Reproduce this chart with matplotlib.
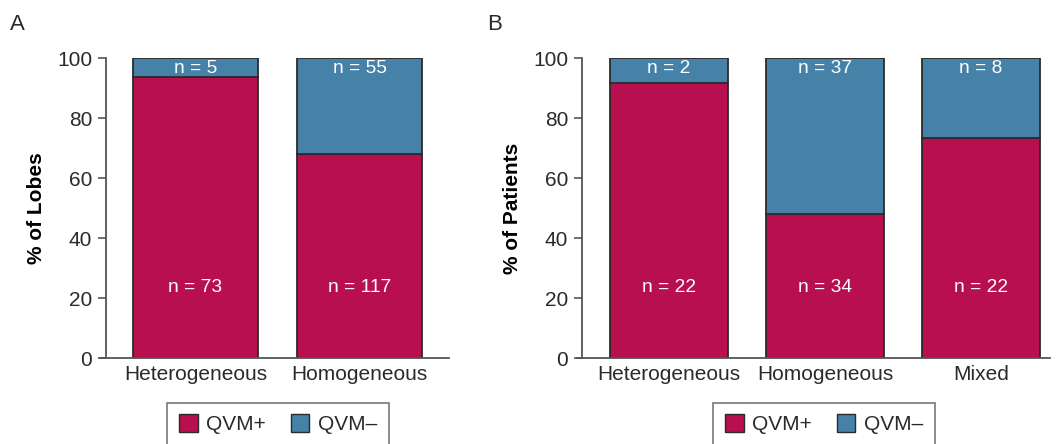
import numpy as np
import matplotlib
matplotlib.use("Agg")
import matplotlib.pyplot as plt
from matplotlib.patches import Patch

plt.rcParams['font.family'] = ['Liberation Sans', 'DejaVu Sans']
plt.rcParams['text.color'] = '#2a2a2a'
plt.rcParams['xtick.labelcolor'] = '#2a2a2a'
plt.rcParams['ytick.labelcolor'] = '#2a2a2a'

# panel A - lobes
cats_a = ['Heterogeneous', 'Homogeneous']
pos_a = [93.6, 68.0]          # % QVM+
n_pos_a = [73, 117]
n_neg_a = [5, 55]

# panel B - patients
cats_b = ['Heterogeneous', 'Homogeneous', 'Mixed']
pos_b = [91.7, 47.9, 73.3]
n_pos_b = [22, 34, 22]
n_neg_b = [2, 37, 8]

c_pos = '#B80F4E'
c_neg = '#4682A8'
edge = '#2b2b2b'
grey = '#555555'

W, H = 1058, 444
fig = plt.figure(figsize=(W / 100, H / 100), dpi=100)


def panel(rect, cats, pos, npos, nneg, width, xlim, ylabel, letter, letter_x, leg_x):
    ax = fig.add_axes(rect)
    x = np.arange(len(cats))
    neg = [100 - p for p in pos]
    ax.bar(x, pos, width, color=c_pos, edgecolor=edge, linewidth=1.3)
    ax.bar(x, neg, width, bottom=pos, color=c_neg, edgecolor=edge, linewidth=1.3)
    for i in range(len(cats)):
        ax.text(x[i], 23.5, 'n = %d' % npos[i], ha='center', va='center', color='white', fontsize=13.8)
        ax.text(x[i], 96.6, 'n = %d' % nneg[i], ha='center', va='center', color='white', fontsize=13.8)
    ax.set_xlim(*xlim)
    ax.set_ylim(0, 100)
    ax.set_yticks([0, 20, 40, 60, 80, 100])
    ax.set_xticks(x)
    ax.set_xticklabels(cats)
    ax.tick_params(axis='y', direction='out', length=6, width=1.2, color=grey, labelsize=15, pad=4)
    ax.tick_params(axis='x', length=0, labelsize=15, pad=5)
    for s in ['top', 'right']:
        ax.spines[s].set_visible(False)
    for s in ['left', 'bottom']:
        ax.spines[s].set_color(grey)
        ax.spines[s].set_linewidth(1.3)
    ax.spines['bottom'].set_bounds(xlim[0] - 0.035, xlim[1])
    ax.set_ylabel(ylabel, fontsize=15, fontweight='bold', labelpad=8)
    fig.text(letter_x, 1 - 25 / H, letter, fontsize=16, va='center', ha='left')
    handles = [Patch(facecolor=c_pos, edgecolor=edge, label='QVM+'),
               Patch(facecolor=c_neg, edgecolor=edge, label='QVM\u2013')]
    leg = fig.legend(handles=handles, loc='upper center', bbox_to_anchor=(leg_x, 1 - 403 / H),
                     ncol=2, fontsize=15, frameon=True, fancybox=False, edgecolor=grey,
                     handlelength=0.9, handleheight=0.9, handletextpad=0.4, columnspacing=1.2,
                     borderpad=0.55, borderaxespad=0)
    leg.get_frame().set_linewidth(1.2)
    return ax


ybot = 1 - 358 / H
yh = 300 / H
panel([106 / W, ybot, 343 / W, yh], cats_a, pos_a, n_pos_a, n_neg_a, 0.76,
      (-0.546, 1.546), '% of Lobes', 'A', 10 / W, 278 / W)
panel([582 / W, ybot, 468 / W, yh], cats_b, pos_b, n_pos_b, n_neg_b, 0.756,
      (-0.558, 2.442), '% of Patients', 'B', 487 / W, 824 / W)

fig.savefig('out.png', dpi=100)
